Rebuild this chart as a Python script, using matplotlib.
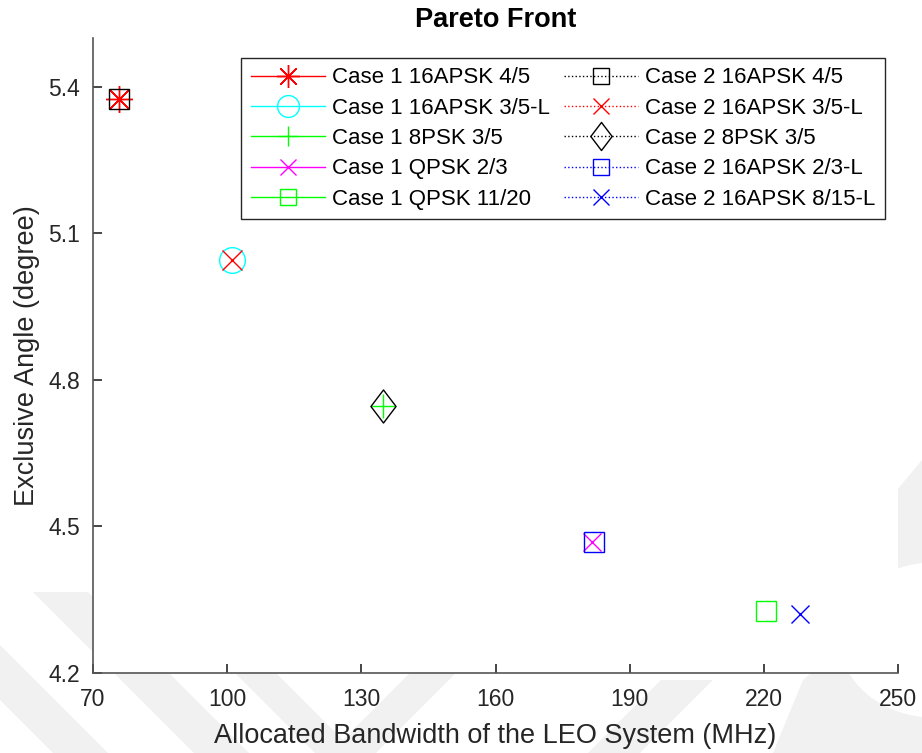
import matplotlib
matplotlib.use("Agg")
import matplotlib.pyplot as plt
from matplotlib.path import Path
from matplotlib.patches import Polygon, Circle

plt.rcParams["font.family"] = ["Liberation Sans", "DejaVu Sans"]

# ---- data -------------------------------------------------------------
labels = [
    "Case 1 16APSK 4/5",
    "Case 1 16APSK 3/5-L",
    "Case 1 8PSK 3/5",
    "Case 1 QPSK 2/3",
    "Case 1 QPSK 11/20",
    "Case 2 16APSK 4/5",
    "Case 2 16APSK 3/5-L",
    "Case 2 8PSK 3/5",
    "Case 2 16APSK 2/3-L",
    "Case 2 16APSK 8/15-L",
]
bandwidth = [75.8, 101.1, 134.8, 181.5, 220.5, 75.8, 101.1, 134.8, 182.0, 228.1]
angle = [5.376, 5.045, 4.746, 4.467, 4.325, 5.376, 5.045, 4.746, 4.467, 4.320]

x_ticks = [70, 100, 130, 160, 190, 220, 250]
y_ticks = [4.2, 4.5, 4.8, 5.1, 5.4]

# ---- styles -----------------------------------------------------------
diamond = Path([(0, 0.5), (0.38, 0), (0, -0.5), (-0.38, 0), (0, 0.5)],
               [Path.MOVETO, Path.LINETO, Path.LINETO, Path.LINETO, Path.CLOSEPOLY])
colors = ["#ff0000", "#00ffff", "#00ff00", "#ff00ff", "#00ff00",
          "#000000", "#ff0000", "#000000", "#0000ff", "#0000ff"]
markers = [(8, 2, 0), "o", "+", "x", "s", "s", "x", diamond, "s", "x"]
msizes = [19.4, 18.5, 16.6, 13.5, 13.7, 13.7, 13.7, 23.8, 13.7, 13.5]
lstyles = ["-"] * 5 + [":"] * 5

W, H = 922, 753
fig = plt.figure(figsize=(W / 100, H / 100), dpi=100)


def px(x, y):
    return (x / W, 1 - y / H)


# faint background emblem around the plot
wm = "#f1f1f1"
shapes = [
    [(33, 592), (88, 592), (249, 753), (194, 753)],
    [(0, 645), (0, 700), (53, 753), (108, 753)],
    [(235, 673), (276, 673), (356, 753), (315, 753)],
    [(330, 753), (376, 753), (469, 660), (423, 660)],
    [(588, 753), (640, 753), (713, 680), (661, 680)],
    [(897, 490), (922, 460), (922, 753), (773, 753), (803, 680), (897, 600)],
]
for s in shapes:
    fig.patches.append(Polygon([px(*p) for p in s], closed=True, transform=fig.transFigure,
                               facecolor=wm, edgecolor="none", zorder=-2))
fig.patches.append(Circle(px(935, 640), 95 / W, transform=fig.transFigure,
                          facecolor="white", edgecolor="none", zorder=-1))

ax = fig.add_axes([93 / W, 1 - 672.5 / H, (898 - 93) / W, (672.5 - 38) / H])
ax.set_facecolor("white")

for i in range(len(labels)):
    ax.plot([bandwidth[i]], [angle[i]], linestyle=lstyles[i], color=colors[i],
            marker=markers[i], markersize=msizes[i], markeredgewidth=1.0,
            markerfacecolor="none", linewidth=1.0, label=labels[i])

ax.set_xlim(70, 250)
ax.set_ylim(4.2, 5.5)
ax.set_xticks(x_ticks)
ax.set_yticks(y_ticks)
ax.set_xticklabels([str(v) for v in x_ticks])
ax.set_yticklabels([f"{v:.1f}" for v in y_ticks])

for side in ("top", "right"):
    ax.spines[side].set_visible(False)
for side in ("left", "bottom"):
    ax.spines[side].set_color("#555555")
    ax.spines[side].set_linewidth(1.2)

ax.tick_params(axis="both", direction="in", length=6.5, width=1.2, color="#262626",
               labelsize=16.5, labelcolor="#262626")
ax.tick_params(axis="y", pad=9.4)
ax.tick_params(axis="x", pad=11)

ax.set_xlabel("Allocated Bandwidth of the LEO System (MHz)", fontsize=19.5,
              color="#262626", labelpad=9)
ax.set_ylabel("Exclusive Angle (degree)", fontsize=19.5, color="#262626", labelpad=6)
ax.set_title("Pareto Front", fontsize=19.5, fontweight="bold", pad=8)

leg = ax.legend(loc="upper right", bbox_to_anchor=px(885, 58),
                bbox_transform=fig.transFigure, ncol=2, fontsize=16,
                numpoints=1, markerscale=0.85, handlelength=3.36, handletextpad=0.32,
                columnspacing=0.6, labelspacing=0.42, borderpad=0.42,
                borderaxespad=0, fancybox=False, framealpha=1, edgecolor="#262626")
leg.get_frame().set_linewidth(1.0)

fig.savefig("out.png", dpi=100)
